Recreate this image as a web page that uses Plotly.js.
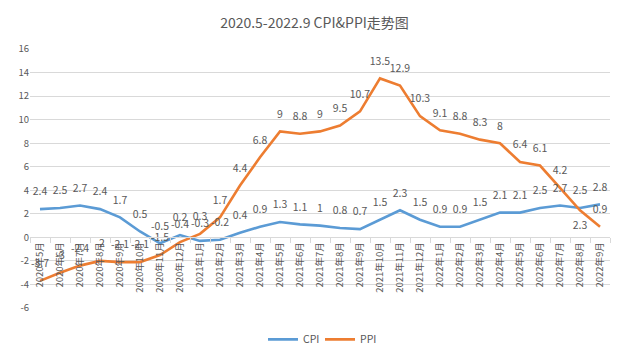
<!DOCTYPE html>
<html>
<head>
<meta charset="utf-8">
<script src="https://cdn.plot.ly/plotly-3.0.1.min.js"></script>
<style>html,body{margin:0;padding:0;background:#fff;}#chart{width:629px;height:361px;}</style>
</head>
<body>
<div id="chart"></div>
<script>
const months = ["2020年5月","2020年6月","2020年7月","2020年8月","2020年9月","2020年10月","2020年11月","2020年12月",
  "2021年1月","2021年2月","2021年3月","2021年4月","2021年5月","2021年6月","2021年7月","2021年8月","2021年9月","2021年10月","2021年11月","2021年12月",
  "2022年1月","2022年2月","2022年3月","2022年4月","2022年5月","2022年6月","2022年7月","2022年8月","2022年9月"];
const cpi = [2.4,2.5,2.7,2.4,1.7,0.5,-0.5,0.2,-0.3,-0.2,0.4,0.9,1.3,1.1,1,0.8,0.7,1.5,2.3,1.5,0.9,0.9,1.5,2.1,2.1,2.5,2.7,2.5,2.8];
const ppi = [-3.7,-3,-2.4,-2,-2.1,-2.1,-1.5,-0.4,0.3,1.7,4.4,6.8,9,8.8,9,9.5,10.7,13.5,12.9,10.3,9.1,8.8,8.3,8,6.4,6.1,4.2,2.3,0.9];
const yTicks = [-6,-4,-2,0,2,4,6,8,10,12,14,16];

const font = "'Noto Sans CJK SC', 'Liberation Sans', sans-serif";
const txtColor = "#595959";
const yMin = -6, yMax = 16;

function lineTrace(name, vals, color) {
  return {
    type: "scatter", mode: "lines", name: name,
    x: months, y: vals,
    line: {color: color, width: 2.6},
    hoverinfo: "skip"
  };
}
function labelTrace(vals, belowIdx) {
  return {
    type: "scatter", mode: "markers+text", showlegend: false,
    x: months, y: vals,
    text: vals.map(v => String(v)),
    textposition: vals.map((v, i) => i === belowIdx ? "bottom center" : "top center"),
    textfont: {family: font, size: 10.5, color: txtColor},
    marker: {size: 16, color: "rgba(0,0,0,0)", line: {width: 0}},
    cliponaxis: false,
    hoverinfo: "skip"
  };
}

const data = [
  lineTrace("CPI", cpi, "#5B9BD5"),
  lineTrace("PPI", ppi, "#ED7D31"),
  labelTrace(cpi, -1),
  labelTrace(ppi, 27)
];

const layout = {
  width: 629, height: 361,
  margin: {l: 30, r: 19, t: 49, b: 53, autoexpand: false},
  paper_bgcolor: "#fff", plot_bgcolor: "#fff",
  title: {text: "2020.5-2022.9 CPI&PPI走势图", x: 0.5, xanchor: "center", y: 0.935, yanchor: "middle",
          font: {family: font, size: 14, color: txtColor}},
  showlegend: true,
  legend: {orientation: "h", x: 0.5, xanchor: "center", yref: "container", y: 0.06, yanchor: "middle",
           font: {family: font, size: 10.5, color: txtColor}, itemwidth: 30, tracegroupgap: 0,
           entrywidth: 12, entrywidthmode: "pixels"},
  xaxis: {
    type: "category", range: [-0.5, months.length - 0.5],
    anchor: "free", position: (0 - yMin) / (yMax - yMin),
    tickangle: -90, tickfont: {family: font, size: 9.5, color: txtColor},
    showgrid: false, zeroline: false,
    showline: true, linecolor: "#d9d9d9", linewidth: 1,
    ticks: "outside", tickson: "boundaries", ticklen: 5, tickcolor: "#d9d9d9"
  },
  yaxis: {
    range: [yMin, yMax], tickvals: yTicks, ticktext: yTicks.map(String),
    tickfont: {family: font, size: 9.5, color: txtColor},
    showgrid: true, gridcolor: "#d9d9d9", gridwidth: 1,
    zeroline: false, showline: false, ticks: "", ticklen: 0
  }
};

Plotly.newPlot("chart", data, layout, {staticPlot: true, displayModeBar: false});
</script>
</body>
</html>
